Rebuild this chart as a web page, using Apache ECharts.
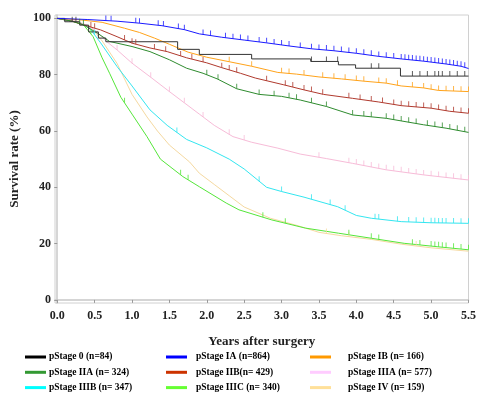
<!DOCTYPE html>
<html>
<head>
<meta charset="utf-8">
<script src="https://cdn.jsdelivr.net/npm/echarts@6/dist/echarts.min.js"></script>
<style>
  html, body { margin: 0; padding: 0; background: #fff; }
  #chart { width: 479px; height: 394px; }
</style>
</head>
<body>
<div id="chart"></div>
<script>
// Kaplan-Meier survival by pathological stage: [years, survival %]
const stage0 = [[0,100],[0.1,98.8],[0.3,97.6],[0.42,95.2],[0.55,93],[0.65,91.7],[1.61,89],[1.9,87.2],[2.6,85.6],[3.39,84.7],[3.76,83.5],[3.99,82.3],[4.59,79.5],[5.5,79.5]];
const stageIA = [[0,100],[0.4,99.6],[0.8,99],[1.1,98.3],[1.4,97.4],[1.7,96],[1.9,94.5],[2.2,93.3],[2.5,92.3],[2.8,91.3],[3.1,90.2],[3.4,89.2],[3.7,88.5],[4.0,87.6],[4.3,86.5],[4.6,85.6],[4.9,84.8],[5.2,83.8],[5.4,83],[5.5,82.2]];
const stageIB = [[0,100],[0.3,99.5],[0.6,98.6],[0.9,96.5],[1.1,95],[1.3,93],[1.5,90.8],[1.75,88],[2.0,86.2],[2.3,84.6],[2.6,83],[2.95,80.8],[3.2,80.2],[3.5,79.2],[3.8,78.5],[4.1,77.7],[4.4,77],[4.6,76],[4.9,75.3],[5.1,74.4],[5.5,74]];
const stageIIA = [[0,100],[0.2,99],[0.35,97.7],[0.54,94.7],[0.7,91.8],[1.0,90],[1.24,88.2],[1.5,85.3],[1.73,82.3],[1.95,80.5],[2.14,78.5],[2.4,75],[2.7,73],[3.0,72.3],[3.25,71],[3.6,68.7],[3.95,65.7],[4.4,64.5],[4.9,62.2],[5.2,61],[5.5,59.5]];
const stageIIB = [[0,100],[0.2,99],[0.35,97.7],[0.58,95.9],[0.8,93.5],[1.0,91.2],[1.24,89.5],[1.47,88.2],[1.73,86],[2.0,84.2],[2.2,82.5],[2.45,80.5],[2.65,78.8],[3.03,76.4],[3.3,74.6],[3.56,73],[3.95,71.6],[4.3,70.3],[4.6,69],[5.0,68.1],[5.25,67],[5.5,66.3]];
const stageIIIA = [[0,100],[0.25,99],[0.4,97.5],[0.5,95.9],[0.65,92],[0.8,88.8],[1.0,84.1],[1.24,79.3],[1.47,74.6],[1.7,70],[1.9,66],[2.1,62],[2.35,58],[2.6,56],[2.95,53.9],[3.25,51.8],[3.6,50.2],[3.95,48.5],[4.4,46.2],[4.9,44.4],[5.5,42.6]];
const stageIIIB = [[0,100],[0.3,98.5],[0.42,97],[0.58,91.3],[0.8,82.9],[1.0,76],[1.24,67.5],[1.47,62],[1.73,57],[2.0,54],[2.3,50],[2.5,46.5],[2.8,40],[3.0,38.5],[3.3,36.5],[3.75,33.1],[4.0,30],[4.2,29],[4.6,27.8],[5.0,27.4],[5.5,27.2]];
const stageIIIC = [[0,100],[0.2,99],[0.35,97.7],[0.48,93.5],[0.6,86],[0.7,80.5],[0.85,72],[1.0,66],[1.2,58],[1.38,50],[1.68,43.8],[1.9,40.2],[2.26,34.4],[2.43,32],[2.87,28.4],[3.32,25.5],[3.76,23.7],[4.2,21.9],[4.64,20.1],[5.08,18.9],[5.5,17.8]];
const stageIV = [[0,100],[0.25,99],[0.45,97],[0.6,92],[0.8,84],[1.0,73],[1.2,65],[1.34,60],[1.5,55],[1.77,49],[1.9,45],[2.1,41],[2.3,37],[2.5,33],[2.85,29],[3.2,26.5],[3.5,24],[3.8,22.8],[4.2,21.5],[4.6,19.8],[5.0,18.5],[5.5,17.3]];

// censoring times (years) for each stage
const cens0 = [0.2,0.25,3.4,3.6,3.75,4.2,4.3,4.75,4.85,4.95,5.05,5.1,5.15,5.25,5.35,5.45];
const censIA = [0.65,0.72,1.05,1.1,1.35,1.42,1.62,1.7,1.95,2.05,2.25,2.35,2.45,2.55,2.7,2.8,2.9,3.0,3.1,3.25,3.4,3.5,3.6,3.7,3.8,3.9,4.0,4.1,4.2,4.3,4.4,4.5,4.6,4.65,4.7,4.75,4.8,4.85,4.9,4.95,5.0,5.05,5.1,5.15,5.2,5.25,5.3,5.35,5.4,5.45];
const censIB = [2.3,2.6,3.0,3.1,3.3,3.55,3.7,3.85,4.0,4.1,4.3,4.4,4.55,4.75,4.9,5.0,5.1,5.2,5.3,5.4,5.5];
const censIIA = [0.3,0.35,2.0,2.15,2.4,2.7,2.9,3.1,3.2,3.4,3.6,3.95,4.1,4.2,4.4,4.5,4.6,4.7,4.8,4.95,5.05,5.15,5.25,5.35,5.45];
const censIIB = [0.45,0.5,0.9,1.0,1.05,1.3,1.45,1.65,1.8,1.95,2.2,2.3,2.4,2.8,3.05,3.15,3.3,3.4,3.55,3.9,4.05,4.2,4.35,4.5,4.6,4.7,4.8,4.9,5.0,5.1,5.2,5.3,5.4,5.5];
const censIIIA = [0.8,1.0,1.25,1.5,1.7,1.95,2.3,2.5,3.5,3.9,4.0,4.1,4.2,4.3,4.4,4.5,4.6,4.7,4.8,4.9,5.0,5.1,5.2,5.3,5.4,5.5];
const censIIIB = [0.5,1.6,2.7,3.0,3.4,3.65,3.85,4.25,4.3,4.55,4.7,4.8,4.9,5.0,5.05,5.1,5.15,5.2,5.3,5.4,5.5];
const censIIIC = [0.45,0.9,1.65,1.75,2.75,3.05,3.9,4.2,4.3,4.75,4.85,5.0,5.05,5.1,5.15,5.2,5.3,5.4,5.5];
const censIV = [3.6,3.9,4.8];

const names = ['pStage 0 (n=84)','pStage IA (n=864)','pStage IB (n= 166)','pStage IIA (n= 324)','pStage IIB(n= 429)','pStage IIIA (n= 577)','pStage IIIB (n= 347)','pStage IIIC (n= 340)','pStage IV (n= 159)'];
const colors = ['#000000','#0000ff','#ff9900','#339933','#cc3300','#ffccff','#00ffff','#66ff33','#ffe099'];
const lineColors = ['#333333','#1a1aff','#ffa31a','#2e8b2e','#b03a2e','#f7bcd8','#33e6f0','#55e63a','#f5d9a0'];
const curves = [stage0, stageIA, stageIB, stageIIA, stageIIB, stageIIIA, stageIIIB, stageIIIC, stageIV];
const censors = [cens0, censIA, censIB, censIIA, censIIB, censIIIA, censIIIB, censIIIC, censIV];
// stage 0 has few events, so its curve keeps the staircase shape
const stepped = [true,false,false,false,false,false,false,false,false];

const xTicks = [0,0.5,1,1.5,2,2.5,3,3.5,4,4.5,5,5.5];
const yTicks = [0,20,40,60,80,100];

// survival value of a curve at time t
function survivalAt(curve, t, step) {
  for (let k = 1; k < curve.length; k++) {
    const a = curve[k - 1], b = curve[k];
    if (t < b[0]) {
      if (step) return a[1];
      return a[1] + (b[1] - a[1]) * (t - a[0]) / (b[0] - a[0]);
    }
  }
  return curve[curve.length - 1][1];
}

const FONT = '"Liberation Serif", "DejaVu Serif", serif';

const series = [];
// draw low curves first so upper ones sit on top
const order = [8,7,6,5,4,3,2,0,1];
order.forEach(i => {
  series.push({
    name: names[i], type: 'line', step: stepped[i] ? 'end' : false, data: curves[i],
    showSymbol: false, symbol: 'none', color: colors[i],
    lineStyle: { width: 1, color: lineColors[i] }, z: 2
  });
});
order.forEach(i => {
  series.push({
    name: 'censor ' + i, type: 'scatter', silent: true,
    data: censors[i].map(t => [t, survivalAt(curves[i], t, stepped[i])]),
    symbol: 'rect', symbolSize: [1, 5], symbolOffset: [0, -2.5],
    itemStyle: { color: lineColors[i] }, z: 3
  });
});

function legendCol(left, items, textShift) {
  return {
    orient: 'vertical', left: left, top: 351,
    data: items, icon: 'rect', itemWidth: 21, itemHeight: 3, itemGap: 3.3,
    selectedMode: false, padding: 0,
    textStyle: { fontFamily: FONT, fontWeight: 'bold', fontSize: 9.5, color: '#000', lineHeight: 12, padding: [0,0,0,textShift] }
  };
}

const chart = echarts.init(document.getElementById('chart'), null, { renderer: 'canvas' });
chart.setOption({
  animation: false,
  backgroundColor: '#fff',
  grid: { left: 54, right: 6, top: 15, bottom: 91, show: true, borderColor: '#d0d0d0', borderWidth: 1, backgroundColor: 'transparent' },
  legend: [
    legendCol(25, [names[0], names[3], names[6]], -2),
    legendCol(166, [names[1], names[4], names[7]], 4),
    legendCol(310, [names[2], names[5], names[8]], 12)
  ],
  xAxis: {
    type: 'value', min: -0.03, max: 5.5,
    name: 'Years after surgery', nameLocation: 'middle', nameGap: 32,
    nameTextStyle: { fontFamily: FONT, fontWeight: 'bold', fontSize: 13, color: '#222' },
    axisLine: { show: true, lineStyle: { color: '#c8c8c8', width: 1.5 } },
    axisTick: { show: true, inside: false, length: 3, customValues: xTicks, lineStyle: { color: '#999' } },
    axisLabel: { customValues: xTicks, margin: 7, fontFamily: FONT, fontWeight: 'bold', fontSize: 12, color: '#222', formatter: v => v.toFixed(1) },
    splitLine: { show: false }
  },
  yAxis: {
    type: 'value', min: -1.1, max: 101.2,
    name: 'Survival rate (%)', nameLocation: 'middle', nameGap: 34,
    nameTextStyle: { fontFamily: FONT, fontWeight: 'bold', fontSize: 13, color: '#222' },
    axisLine: { show: true, lineStyle: { color: '#c8c8c8', width: 1.5 } },
    axisTick: { show: true, inside: false, length: 3, customValues: yTicks, lineStyle: { color: '#999' } },
    axisLabel: { customValues: yTicks, margin: 4, fontFamily: FONT, fontWeight: 'bold', fontSize: 12, color: '#222' },
    splitLine: { show: false }
  },
  series: series
});
</script>
</body>
</html>
